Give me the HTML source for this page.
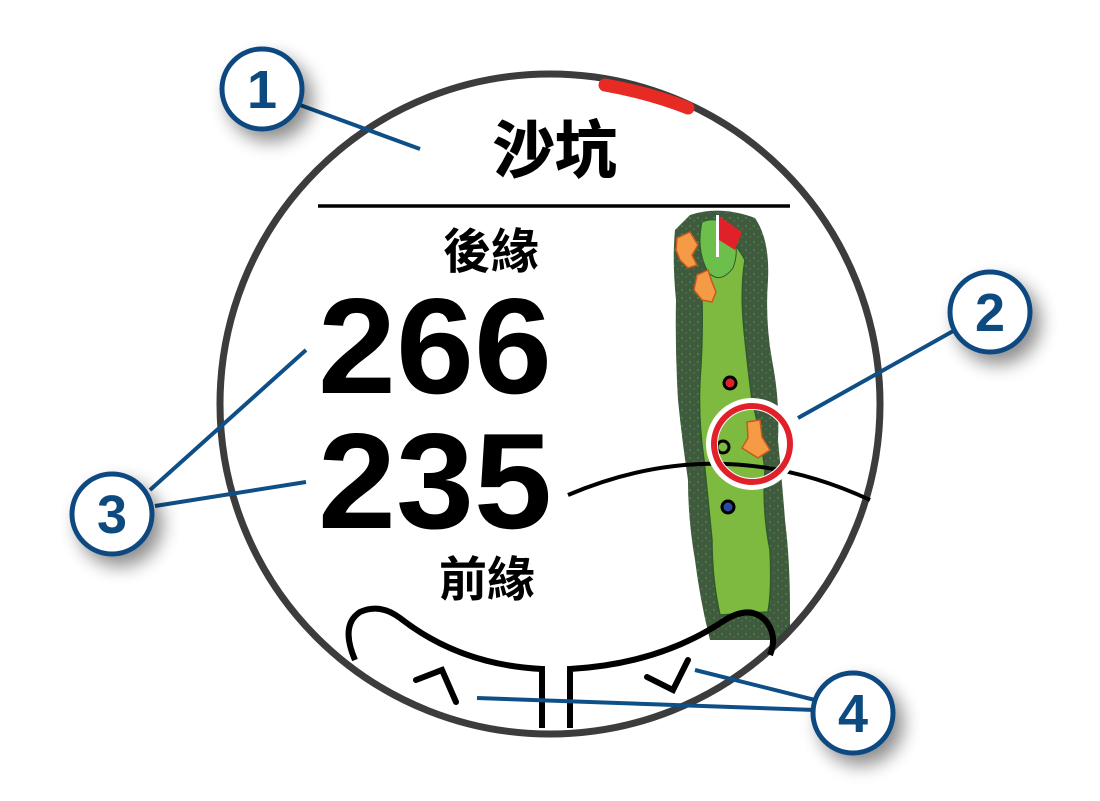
<!DOCTYPE html>
<html><head><meta charset="utf-8"><style>
html,body{margin:0;padding:0;background:#fff}
svg{display:block}
</style></head><body>
<svg width="1100" height="801" viewBox="0 0 1100 801" xmlns="http://www.w3.org/2000/svg">
<defs>
<filter id="sh" x="-50%" y="-50%" width="200%" height="200%"><feGaussianBlur in="SourceAlpha" stdDeviation="9"/><feOffset dx="8" dy="10"/><feComponentTransfer><feFuncA type="linear" slope="0.45"/></feComponentTransfer><feMerge><feMergeNode/><feMergeNode in="SourceGraphic"/></feMerge></filter>
<pattern id="sp" width="8" height="8" patternUnits="userSpaceOnUse"><rect width="8" height="8" fill="#3f5a3c"/><circle cx="2" cy="2" r="1" fill="#3f8c45"/><circle cx="6" cy="5" r="0.9" fill="#5a6e55"/></pattern>
<clipPath id="cc"><circle cx="550" cy="404" r="330"/></clipPath>
</defs>
<g clip-path="url(#cc)">
<path d="M690 215 Q720 205 755 218 Q770 240 768 280 Q765 320 772 360 Q780 400 778 440 Q782 480 785 520 Q790 560 790 610 L790 640 L710 640 Q700 600 695 560 Q688 520 688 480 Q682 440 678 400 Q675 350 676 300 Q672 260 675 230 Z" fill="url(#sp)"/>
<path d="M720 235 Q735 240 745 260 Q740 290 744 330 Q748 370 752 400 Q760 430 765 470 Q762 510 770 550 Q772 590 768 612 L720 615 Q712 580 712 540 Q708 500 704 460 Q698 420 700 380 Q703 340 702 300 Q703 270 715 250 Z" fill="#7dba3f" stroke="#2e5a2e" stroke-width="1.5"/>
<path d="M702 222 Q720 215 732 230 Q740 250 733 268 Q720 285 708 272 Q696 250 702 222 Z" fill="#6cbf4a" stroke="#2e5a2e" stroke-width="1"/>
<rect x="716" y="215" width="3" height="42" fill="#fff"/>
<path d="M719 216 L742 232 L735 250 L719 240 Z" fill="#e0212a"/>
<path d="M677 238 L690 232 L698 245 L692 255 L697 265 L688 268 L680 260 L676 250 Z" fill="#f59b45" stroke="#c45a20" stroke-width="1.5"/>
<path d="M697 275 L708 270 L712 282 L716 292 L712 302 L702 300 L694 290 Z" fill="#f59b45" stroke="#c45a20" stroke-width="1.5"/>
<path d="M747 422 L760 420 L762 437 L770 450 L758 458 L742 448 L748 438 Z" fill="#f59b45" stroke="#c45a20" stroke-width="1.5"/>
<circle cx="730" cy="383" r="6" fill="#e0212a" stroke="#000" stroke-width="3"/>
<circle cx="728" cy="507" r="6" fill="#2b4aa0" stroke="#000" stroke-width="3"/>
<circle cx="723" cy="447" r="6" fill="none" stroke="#000" stroke-width="3"/>
</g>
<circle cx="550" cy="404" r="330" fill="none" stroke="#3c3c3c" stroke-width="7"/>
<path d="M605 85 Q650 93 688 108" fill="none" stroke="#e82a24" stroke-width="13" stroke-linecap="round"/>
<text x="555" y="172" font-family="Liberation Sans, Noto Sans CJK TC, sans-serif" font-size="62" font-weight="bold" text-anchor="middle" stroke="#000" stroke-width="1">沙坑</text>
<line x1="318" y1="206" x2="790" y2="206" stroke="#000" stroke-width="3.5"/>
<text x="491" y="268" font-family="Liberation Sans, Noto Sans CJK TC, sans-serif" font-size="48" font-weight="bold" text-anchor="middle">後緣</text>
<text x="318" y="393" font-family="Liberation Sans, sans-serif" font-size="136" font-weight="bold" textLength="234" lengthAdjust="spacingAndGlyphs">266</text>
<text x="318" y="528" font-family="Liberation Sans, sans-serif" font-size="136" font-weight="bold" textLength="234" lengthAdjust="spacingAndGlyphs">235</text>
<text x="487" y="596" font-family="Liberation Sans, Noto Sans CJK TC, sans-serif" font-size="48" font-weight="bold" text-anchor="middle">前緣</text>
<path d="M568 495 Q720 430 870 500" fill="none" stroke="#000" stroke-width="4"/>
<circle cx="752" cy="444" r="40" fill="none" stroke="#fff" stroke-width="12"/>
<circle cx="752" cy="444" r="38" fill="none" stroke="#e0212a" stroke-width="6"/>
<g fill="none" stroke="#000" stroke-width="6">
<path d="M355 660 Q340 625 360 612 Q380 603 400 618 Q460 665 542 669 L542 728"/>
<path d="M570 728 L570 669 Q660 664 725 620 Q750 605 765 620 Q778 635 770 655"/>
<path d="M416 680 L442 670 L456 702" stroke-linecap="round"/>
<path d="M647 677 L673 690 L688 660" stroke-linecap="round"/>
</g>
<g stroke="#0d4f86" stroke-width="4">
<line x1="300" y1="105" x2="420" y2="149"/>
<line x1="955" y1="330" x2="798" y2="418"/>
<line x1="150" y1="490" x2="306" y2="350"/>
<line x1="155" y1="506" x2="306" y2="482"/>
<line x1="815" y1="700" x2="695" y2="670"/>
<line x1="815" y1="710" x2="477" y2="698"/>
</g>
<g filter="url(#sh)">
<circle cx="262" cy="89" r="40" fill="#fff" stroke="#0d4a80" stroke-width="5"/>
<circle cx="990" cy="312" r="40" fill="#fff" stroke="#0d4a80" stroke-width="5"/>
<circle cx="112" cy="514" r="40" fill="#fff" stroke="#0d4a80" stroke-width="5"/>
<circle cx="853" cy="713" r="40" fill="#fff" stroke="#0d4a80" stroke-width="5"/>
</g>
<g font-family="Liberation Sans, sans-serif" font-weight="bold" font-size="54" fill="#0d4a80" text-anchor="middle">
<text x="262" y="108">1</text>
<text x="990" y="331">2</text>
<text x="112" y="533">3</text>
<text x="853" y="732">4</text>
</g>
</svg>
</body></html>
